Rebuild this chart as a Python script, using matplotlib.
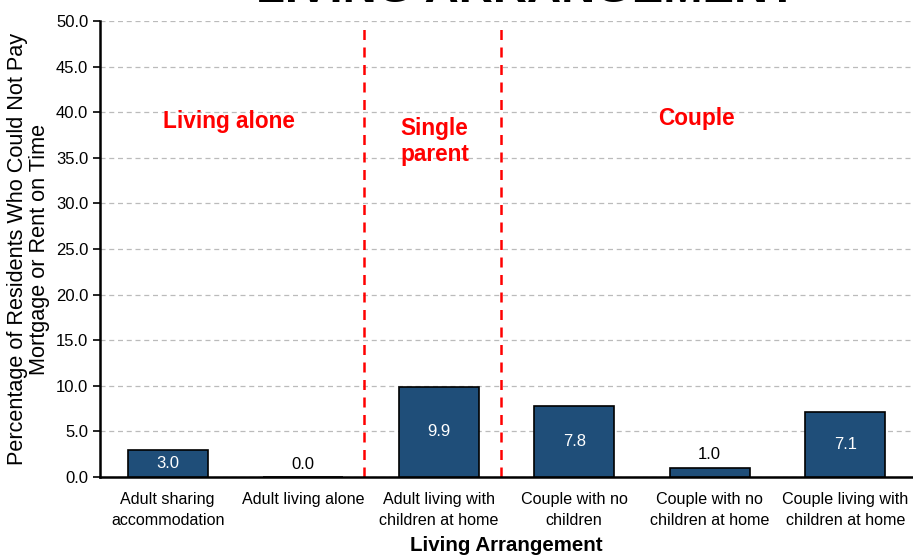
import matplotlib.pyplot as plt
import numpy as np

plt.rcParams['font.family'] = ['Liberation Sans', 'DejaVu Sans']

categories = ["Adult sharing\naccommodation", "Adult living alone",
              "Adult living with\nchildren at home", "Couple with no\nchildren",
              "Couple with no\nchildren at home", "Couple living with\nchildren at home"]
values = [3.0, 0.0, 9.9, 7.8, 1.0, 7.1]
group_names = ["Living alone", "Single\nparent", "Couple"]
group_x = [0.45, 1.97, 3.9]
group_y = [39.0, 36.8, 39.3]
dividers = [1.45, 2.46]

bar_color = "#1F4E79"

fig = plt.figure(figsize=(9.13, 5.56), dpi=100)
ax = fig.add_axes([0.1095, 0.142, 0.8905, 0.820])

x = np.arange(len(categories))
ax.bar(x, values, width=0.59, color=bar_color, edgecolor='black', linewidth=1.2, zorder=3)

for xi, v in zip(x, values):
    if v >= 3:
        ax.text(xi, v / 2, f"{v:.1f}", ha='center', va='center', color='white', fontsize=12, zorder=4)
    else:
        ax.text(xi, v + 0.6, f"{v:.1f}", ha='center', va='bottom', color='black', fontsize=12, zorder=4)

for d in dividers:
    ax.plot([d, d], [0, 49.5], color='#FF0000', linestyle=(0, (4, 3)), linewidth=1.8, zorder=2)

for gx, gy, name in zip(group_x, group_y, group_names):
    ax.text(gx, gy, name, ha='center', va='center', color='#FF0000',
            fontsize=16.3, fontweight='bold', linespacing=1.2)

ax.set_xlim(-0.5, 5.5)
ax.set_ylim(0, 50)
ax.set_yticks(np.arange(0, 50.1, 5))
ax.set_yticklabels([f"{t:.1f}" for t in np.arange(0, 50.1, 5)], fontsize=12)
ax.set_xticks(x)
ax.set_xticklabels(categories, fontsize=11.6, linespacing=1.45)
ax.tick_params(axis='x', length=0, pad=11)
ax.tick_params(axis='y', length=5, width=1.2, direction='out')

ax.yaxis.grid(True, linestyle=(0, (4, 3)), color='#BBBBBB', linewidth=0.9, zorder=0)
ax.set_axisbelow(True)
for s in ['top', 'right']:
    ax.spines[s].set_visible(False)
for s in ['left', 'bottom']:
    ax.spines[s].set_linewidth(1.8)
    ax.spines[s].set_color('black')

ax.set_ylabel("Percentage of Residents Who Could Not Pay\nMortgage or Rent on Time", fontsize=15.6,
              labelpad=4, linespacing=1.1)
ax.set_xlabel("Living Arrangement", fontsize=14.8, fontweight='bold', labelpad=6)

fig.text(0.577, 0.996, "LIVING ARRANGEMENT", ha='center', va='baseline',
         fontsize=34, fontweight='bold', color='black')

fig.savefig("out.png", dpi=100)
